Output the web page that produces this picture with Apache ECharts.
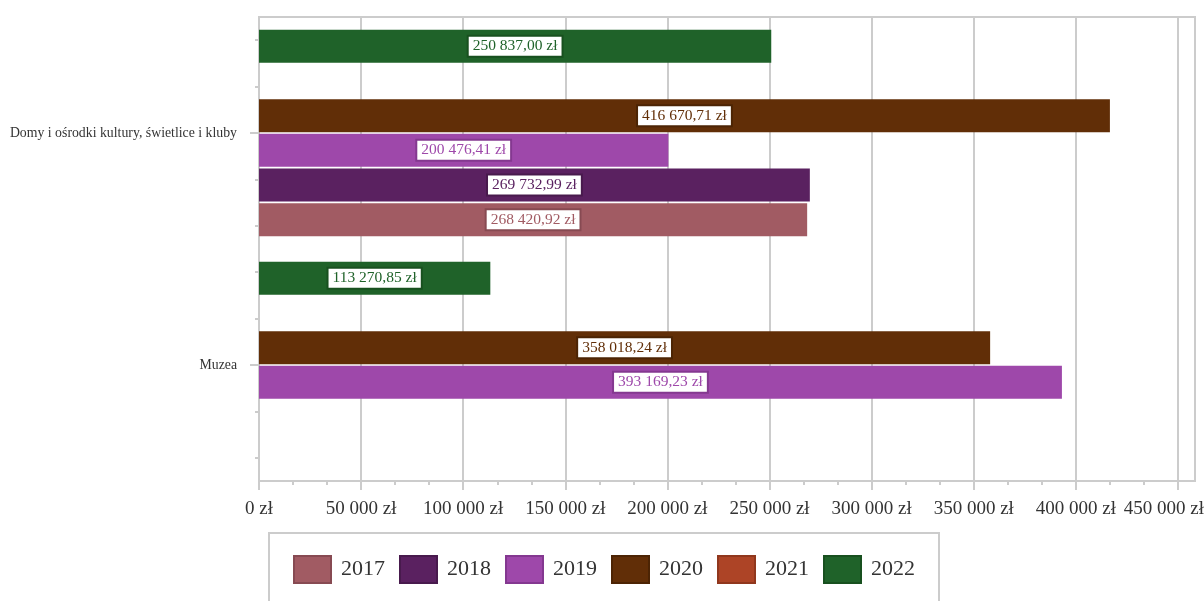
<!DOCTYPE html>
<html>
<head>
<meta charset="utf-8">
<script src="https://cdn.jsdelivr.net/npm/echarts@6/dist/echarts.min.js"></script>
<style>
  html, body { margin: 0; padding: 0; background: #fff; }
  #chart { width: 1204px; height: 601px; }
</style>
</head>
<body>
<div id="chart"></div>
<script>
// Categories, top to bottom
const categories = ['Domy i ośrodki kultury, świetlice i kluby', 'Muzea'];
const years = ['2017', '2018', '2019', '2020', '2021', '2022'];

// Spending per year, in zł: [Domy i ośrodki kultury..., Muzea]
const values2017 = [268420.92, null];
const values2018 = [269732.99, null];
const values2019 = [200476.41, 393169.23];
const values2020 = [416670.71, 358018.24];
const values2021 = [null, null];
const values2022 = [250837.00, 113270.85];

const xTickValues = [0, 50000, 100000, 150000, 200000, 250000, 300000, 350000, 400000, 450000];

const seriesValues = [values2017, values2018, values2019, values2020, values2021, values2022];
const colors = ['#a15b63', '#5a2160', '#9e48aa', '#612e07', '#ad4426', '#1f6229'];
const borders = ['#874a52', '#481a4d', '#843890', '#4c2404', '#90371d', '#18501f'];

const FONT = "'Liberation Serif', 'Times New Roman', serif";

function formatZl(v, decimals) {
  const fixed = Number(v).toFixed(decimals);
  const parts = fixed.split('.');
  const intPart = parts[0].replace(/\B(?=(\d{3})+(?!\d))/g, ' ');
  return (parts.length > 1 ? intPart + ',' + parts[1] : intPart) + ' zł';
}

const chart = echarts.init(document.getElementById('chart'), null, { renderer: 'canvas' });

// Newest year sits at the top of each category band, so series are added newest first
const series = years.map((y, i) => ({
  name: y,
  type: 'bar',
  data: seriesValues[i],
  barCategoryGap: '11%',
  barGap: '5%',
  itemStyle: { color: colors[i] },
  emphasis: { disabled: true },
  label: {
    show: true,
    position: 'inside',
    formatter: p => formatZl(p.value, 2),
    color: colors[i],
    fontFamily: FONT,
    fontSize: 15.5,
    backgroundColor: '#ffffff',
    borderColor: borders[i],
    borderWidth: 2,
    padding: [2, 4, 1, 4]
  }
})).reverse();

const lastTick = xTickValues[xTickValues.length - 1];

chart.setOption({
  animation: false,
  backgroundColor: '#ffffff',
  grid: {
    left: 259, top: 17, right: 9, bottom: 120,
    outerBoundsMode: 'none',
    containLabel: false,
    show: true, borderColor: '#cccccc', borderWidth: 2
  },
  legend: {
    data: years.map((y, i) => ({
      name: y,
      itemStyle: { color: colors[i], borderColor: borders[i], borderWidth: 2 }
    })),
    left: 269, top: 533,
    padding: [22, 24],
    borderColor: '#cccccc', borderWidth: 2,
    icon: 'rect',
    itemWidth: 37, itemHeight: 27, itemGap: 14,
    selectedMode: false,
    textStyle: { fontFamily: FONT, fontSize: 22, color: '#333333', padding: [0, 0, 0, 5] }
  },
  xAxis: {
    type: 'value',
    min: 0,
    max: v => v.max * 1.1,
    interval: 50000,
    axisLine: { show: true, lineStyle: { color: '#cccccc', width: 2 } },
    axisTick: { show: true, length: 9, customValues: xTickValues, lineStyle: { color: '#cccccc', width: 2 } },
    minorTick: { show: true, splitNumber: 3, length: 4, lineStyle: { color: '#cccccc', width: 2 } },
    splitLine: { show: true, lineStyle: { color: '#cccccc', width: 2 } },
    axisLabel: {
      customValues: xTickValues,
      formatter: v => v === lastTick ? '{edge|' + formatZl(v, 0) + '}' : formatZl(v, 0),
      fontFamily: FONT, fontSize: 19, color: '#333333', margin: 19,
      hideOverlap: false,
      rich: {
        edge: { fontFamily: FONT, fontSize: 19, color: '#333333', padding: [0, 28, 0, 0] }
      }
    }
  },
  yAxis: [
    {
      type: 'category',
      inverse: true,
      data: categories,
      axisLine: { show: true, lineStyle: { color: '#cccccc', width: 2 } },
      axisTick: { show: true, alignWithLabel: true, length: 9, lineStyle: { color: '#cccccc', width: 2 } },
      splitLine: { show: false },
      axisLabel: { fontFamily: FONT, fontSize: 13.8, color: '#333333', margin: 22 }
    },
    {
      // secondary ticks between the bar slots
      type: 'value',
      min: 0, max: 10,
      position: 'left',
      axisLine: { show: false },
      splitLine: { show: false },
      axisLabel: { show: false },
      axisTick: {
        show: true, length: 4,
        customValues: [0.5, 1.5, 3.5, 4.5, 5.5, 6.5, 8.5, 9.5],
        lineStyle: { color: '#cccccc', width: 2 }
      }
    }
  ],
  series: series
});
</script>
</body>
</html>
